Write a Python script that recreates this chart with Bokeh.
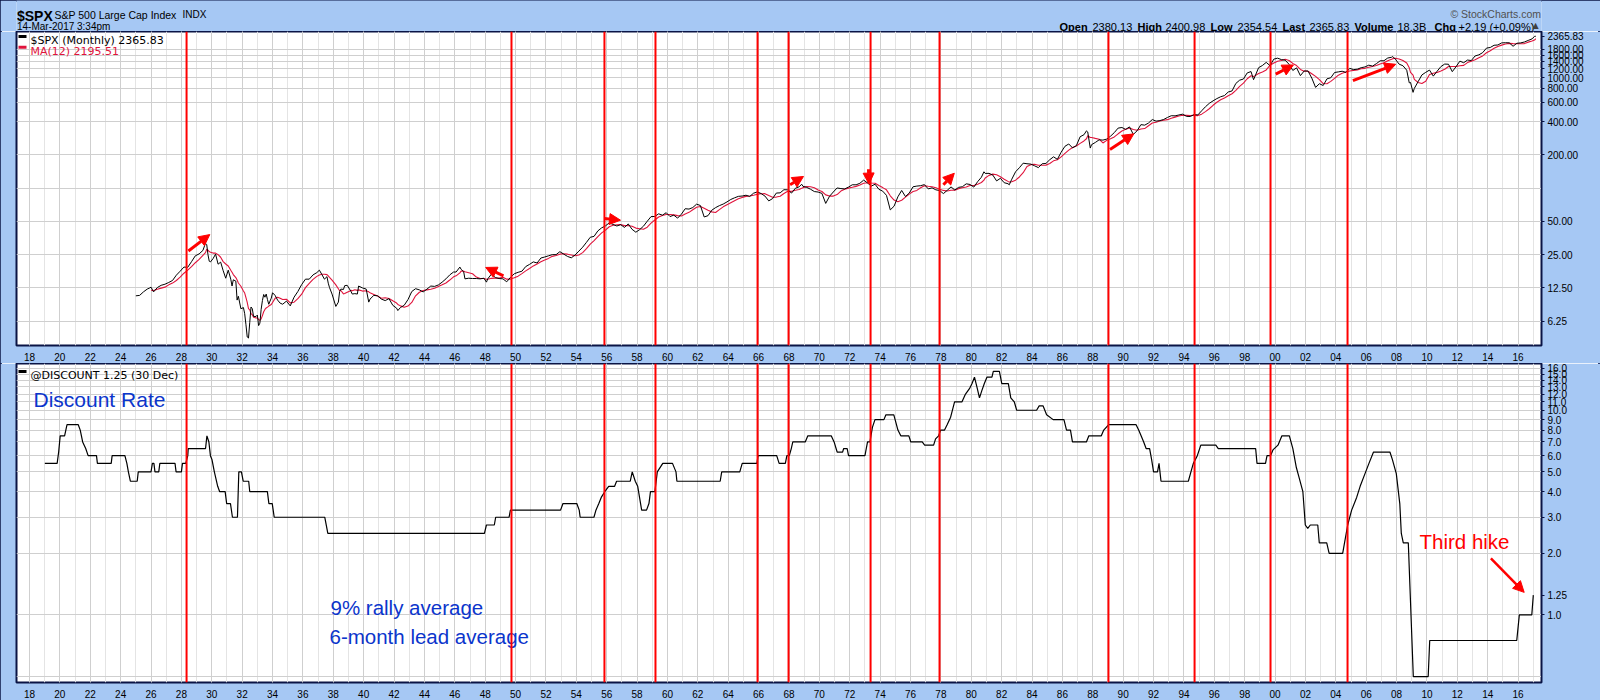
import numpy as np
from bokeh.plotting import figure
from bokeh.models import (Range1d, FixedTicker, PrintfTickFormatter, Span, Arrow,
                          NormalHead)
from bokeh.layouts import column
from bokeh.embed import file_html
from bokeh.resources import INLINE
from bokeh.core.properties import value

# ------------------------------------------------------------------ data
spx_months = [
    "1925-01", "1925-04", "1925-07", "1925-10", "1925-12",
    "1926-01", "1926-03", "1926-06", "1926-09", "1926-12",
    "1927-03", "1927-06", "1927-09", "1927-12",
    "1928-03", "1928-06", "1928-09", "1928-12",
    "1929-03", "1929-06", "1929-08", "1929-09", "1929-10", "1929-11", "1929-12",
    "1930-02", "1930-04", "1930-06", "1930-08", "1930-10", "1930-12",
    "1931-02", "1931-04", "1931-05", "1931-06", "1931-08", "1931-09", "1931-10", "1931-12",
    "1932-02", "1932-03", "1932-04", "1932-05", "1932-06", "1932-07", "1932-08", "1932-09", "1932-10", "1932-12",
    "1933-01", "1933-02", "1933-03", "1933-04", "1933-05", "1933-06", "1933-07", "1933-08", "1933-09", "1933-10", "1933-12",
    "1934-01", "1934-03", "1934-05", "1934-07", "1934-09", "1934-12",
    "1935-03", "1935-06", "1935-09", "1935-12",
    "1936-03", "1936-06", "1936-09", "1936-12",
    "1937-02", "1937-04", "1937-06", "1937-08", "1937-09", "1937-10", "1937-12",
    "1938-03", "1938-05", "1938-06", "1938-07", "1938-09", "1938-10", "1938-12",
    "1939-03", "1939-04", "1939-06", "1939-08", "1939-09", "1939-12",
    "1940-03", "1940-05", "1940-06", "1940-09", "1940-12",
    "1941-03", "1941-06", "1941-09", "1941-12",
    "1942-03", "1942-04", "1942-06", "1942-09", "1942-12",
    "1943-03", "1943-06", "1943-09", "1943-12",
    "1944-03", "1944-06", "1944-09", "1944-12",
    "1945-03", "1945-06", "1945-09", "1945-12",
    "1946-02", "1946-05", "1946-06", "1946-08", "1946-09", "1946-12",
    "1947-03", "1947-06", "1947-09", "1947-12",
    "1948-02", "1948-03", "1948-06", "1948-09", "1948-12",
    "1949-03", "1949-06", "1949-09", "1949-12",
    "1950-03", "1950-06", "1950-09", "1950-12",
    "1951-03", "1951-06", "1951-09", "1951-12",
    "1952-03", "1952-06", "1952-09", "1952-12",
    "1953-03", "1953-06", "1953-09", "1953-12",
    "1954-03", "1954-06", "1954-09", "1954-12",
    "1955-03", "1955-06", "1955-09", "1955-12",
    "1956-03", "1956-06", "1956-09", "1956-12",
    "1957-03", "1957-06", "1957-09", "1957-12",
    "1958-03", "1958-06", "1958-09", "1958-12",
    "1959-03", "1959-06", "1959-09", "1959-12",
    "1960-03", "1960-06", "1960-09", "1960-12",
    "1961-03", "1961-06", "1961-09", "1961-12",
    "1962-03", "1962-06", "1962-09", "1962-12",
    "1963-03", "1963-06", "1963-09", "1963-12",
    "1964-03", "1964-06", "1964-09", "1964-12",
    "1965-03", "1965-06", "1965-09", "1965-12",
    "1966-03", "1966-06", "1966-09", "1966-12",
    "1967-03", "1967-06", "1967-09", "1967-12",
    "1968-03", "1968-06", "1968-09", "1968-11", "1968-12",
    "1969-03", "1969-06", "1969-09", "1969-12",
    "1970-03", "1970-06", "1970-09", "1970-12",
    "1971-03", "1971-06", "1971-09", "1971-12",
    "1972-03", "1972-06", "1972-09", "1972-12",
    "1973-03", "1973-06", "1973-09", "1973-12",
    "1974-03", "1974-06", "1974-09", "1974-12",
    "1975-03", "1975-06", "1975-09", "1975-12",
    "1976-03", "1976-06", "1976-09", "1976-12",
    "1977-03", "1977-06", "1977-09", "1977-12",
    "1978-03", "1978-06", "1978-09", "1978-12",
    "1979-03", "1979-06", "1979-09", "1979-12",
    "1980-03", "1980-06", "1980-09", "1980-11", "1980-12",
    "1981-03", "1981-06", "1981-09", "1981-12",
    "1982-03", "1982-06", "1982-07", "1982-09", "1982-12",
    "1983-03", "1983-06", "1983-09", "1983-12",
    "1984-03", "1984-06", "1984-09", "1984-12",
    "1985-03", "1985-06", "1985-09", "1985-12",
    "1986-03", "1986-06", "1986-09", "1986-12",
    "1987-03", "1987-06", "1987-08", "1987-09", "1987-11", "1987-12",
    "1988-03", "1988-06", "1988-09", "1988-12",
    "1989-03", "1989-06", "1989-09", "1989-12",
    "1990-03", "1990-06", "1990-09", "1990-12",
    "1991-03", "1991-06", "1991-09", "1991-12",
    "1992-03", "1992-06", "1992-09", "1992-12",
    "1993-03", "1993-06", "1993-09", "1993-12",
    "1994-03", "1994-06", "1994-09", "1994-12",
    "1995-03", "1995-06", "1995-09", "1995-12",
    "1996-03", "1996-06", "1996-09", "1996-12",
    "1997-03", "1997-06", "1997-09", "1997-12",
    "1998-03", "1998-06", "1998-08", "1998-09", "1998-12",
    "1999-03", "1999-06", "1999-09", "1999-12",
    "2000-03", "2000-06", "2000-09", "2000-12",
    "2001-03", "2001-06", "2001-09", "2001-12",
    "2002-03", "2002-06", "2002-09", "2002-12",
    "2003-03", "2003-06", "2003-09", "2003-12",
    "2004-03", "2004-06", "2004-09", "2004-12",
    "2005-03", "2005-06", "2005-09", "2005-12",
    "2006-03", "2006-06", "2006-09", "2006-12",
    "2007-03", "2007-06", "2007-09", "2007-10", "2007-12",
    "2008-03", "2008-06", "2008-09", "2008-11", "2008-12",
    "2009-02", "2009-03", "2009-06", "2009-09", "2009-12",
    "2010-03", "2010-06", "2010-09", "2010-12",
    "2011-03", "2011-06", "2011-09", "2011-12",
    "2012-03", "2012-06", "2012-09", "2012-12",
    "2013-03", "2013-06", "2013-09", "2013-12",
    "2014-03", "2014-06", "2014-09", "2014-12",
    "2015-03", "2015-06", "2015-09", "2015-12",
    "2016-03", "2016-06", "2016-09", "2016-12",
    "2017-02", "2017-03",
]
spx_close = [
    10.6, 10.7, 11.5, 12.2, 12.5,
    12.7, 11.5, 12.6, 13.2, 13.5,
    14.0, 14.6, 16.3, 17.7,
    19.3, 19.2, 21.6, 24.4,
    25.4, 27.3, 31.7, 30.9, 25.0, 21.8, 21.5,
    23.0, 25.3, 20.5, 21.4, 17.9, 15.3,
    18.1, 15.0, 13.0, 14.8, 14.4, 9.7, 10.5, 8.1,
    8.3, 7.3, 5.8, 4.5, 4.4, 6.1, 8.4, 8.1, 6.9, 6.9,
    7.1, 5.7, 6.0, 8.0, 9.6, 10.9, 10.3, 11.0, 9.8, 8.9, 10.1,
    11.3, 10.7, 9.7, 9.1, 8.9, 9.5,
    8.6, 10.3, 11.6, 13.4,
    15.0, 15.0, 16.4, 17.2,
    18.1, 16.5, 15.0, 15.8, 13.8, 12.6, 11.0,
    8.5, 9.3, 11.6, 12.2, 12.1, 13.1, 13.2,
    11.6, 11.0, 11.1, 11.0, 13.0, 12.5,
    12.2, 9.3, 9.9, 10.7, 10.6,
    9.9, 9.6, 10.0, 8.7,
    8.2, 7.8, 8.3, 8.7, 9.8,
    11.6, 12.3, 12.0, 11.5,
    12.2, 13.0, 12.9, 13.3,
    14.1, 15.1, 16.4, 17.4,
    17.4, 19.3, 18.4, 17.5, 15.1, 15.3,
    15.2, 15.2, 15.1, 15.3,
    14.1, 15.1, 16.7, 15.5, 15.2,
    15.1, 14.2, 15.6, 16.8,
    17.3, 17.7, 19.5, 20.4,
    21.5, 21.0, 23.3, 23.8,
    24.4, 25.0, 25.0, 26.6,
    25.3, 24.1, 23.4, 24.8,
    26.9, 29.2, 32.3, 35.9,
    36.6, 41.0, 43.7, 45.5,
    48.5, 46.9, 45.4, 46.7,
    44.1, 47.4, 42.4, 39.9,
    42.1, 45.2, 50.1, 55.2,
    55.4, 58.5, 56.9, 59.9,
    55.3, 56.9, 53.5, 58.1,
    65.1, 64.6, 66.7, 71.6,
    69.6, 54.8, 56.3, 63.1,
    66.6, 69.4, 71.7, 75.0,
    78.9, 81.7, 84.2, 84.8,
    86.2, 84.1, 89.9, 92.4,
    89.2, 84.7, 76.6, 80.3,
    90.2, 90.6, 96.7, 96.5,
    90.2, 99.6, 102.7, 108.4, 103.9,
    101.5, 97.7, 93.1, 92.1,
    89.6, 72.7, 84.3, 92.2,
    100.3, 99.0, 98.3, 102.1,
    107.2, 107.1, 110.6, 118.1,
    111.5, 104.3, 108.4, 97.6,
    93.9, 86.0, 63.5, 68.6,
    83.4, 95.2, 83.9, 90.2,
    102.8, 104.3, 105.2, 107.5,
    98.4, 100.5, 96.5, 95.1,
    89.2, 95.5, 102.5, 96.1,
    101.6, 102.9, 109.3, 107.9,
    102.1, 114.2, 125.5, 140.5, 135.8,
    136.0, 131.2, 116.2, 122.6,
    111.9, 109.6, 107.1, 120.4, 140.6,
    152.9, 168.1, 166.1, 164.9,
    159.2, 153.2, 166.1, 167.2,
    180.7, 191.9, 182.1, 211.3,
    238.9, 250.8, 231.3, 242.2,
    291.7, 304.0, 329.8, 321.8, 230.3, 247.1,
    258.9, 273.5, 271.9, 277.7,
    294.9, 317.9, 349.2, 353.4,
    339.9, 358.0, 306.1, 330.2,
    375.2, 371.2, 387.9, 417.1,
    403.7, 408.1, 417.8, 435.7,
    451.7, 450.5, 458.9, 466.5,
    445.8, 444.3, 462.7, 459.3,
    500.7, 544.8, 584.4, 615.9,
    645.5, 670.6, 687.3, 740.7,
    757.1, 885.1, 947.3, 970.4,
    1101.8, 1133.8, 957.3, 1017.0, 1229.2,
    1286.4, 1372.7, 1282.7, 1469.3,
    1498.6, 1454.6, 1436.5, 1320.3,
    1160.3, 1224.4, 1040.9, 1148.1,
    1147.4, 989.8, 815.3, 879.8,
    848.2, 974.5, 996.0, 1111.9,
    1126.2, 1140.8, 1114.6, 1211.9,
    1180.6, 1191.3, 1228.8, 1248.3,
    1294.8, 1270.2, 1335.9, 1418.3,
    1420.9, 1503.4, 1526.8, 1549.4, 1468.4,
    1322.7, 1280.0, 1166.4, 896.2, 903.3,
    735.1, 797.9, 919.3, 1057.1, 1115.1,
    1169.4, 1030.7, 1141.2, 1257.6,
    1325.8, 1320.6, 1131.4, 1257.6,
    1408.5, 1362.2, 1440.7, 1426.2,
    1569.2, 1606.3, 1681.6, 1848.4,
    1872.3, 1960.2, 1972.3, 2058.9,
    2067.9, 2063.1, 1920.0, 2043.9,
    2059.7, 2098.9, 2168.3, 2238.8,
    2363.6, 2365.83,
]

disc_dates = [
    1919.01, 1919.82, 1919.92, 1920.02, 1920.31, 1920.47, 1921.21, 1921.34, 1921.50,
    1921.60, 1921.70, 1921.86, 1922.41, 1922.47, 1923.38, 1923.44, 1924.28, 1924.41,
    1924.51, 1924.64, 1925.09, 1925.16, 1926.00, 1926.09, 1926.19, 1926.26, 1926.51,
    1926.58, 1927.58, 1927.65, 1928.00, 1928.07, 1928.29, 1928.42, 1928.45, 1929.59,
    1929.68, 1929.81, 1929.91, 1930.01, 1930.17, 1930.39, 1930.52, 1930.88, 1930.98,
    1931.23, 1931.36, 1931.69, 1931.78, 1931.95, 1932.07, 1932.43, 1932.50, 1933.66,
    1933.76, 1933.98, 1934.11, 1937.44, 1937.64, 1947.95, 1948.08, 1948.60, 1948.69,
    1949.57, 1949.66, 1952.96, 1953.12, 1954.03, 1954.19, 1954.25, 1955.16, 1955.29,
    1955.48, 1955.64, 1955.87, 1956.13, 1956.52, 1956.65, 1957.55, 1957.68, 1957.88,
    1958.04, 1958.30, 1958.62, 1958.78, 1958.88, 1959.17, 1959.33, 1959.69, 1960.33,
    1960.56, 1960.62, 1963.47, 1963.57, 1964.76, 1964.92, 1965.89, 1965.96, 1967.19,
    1967.35, 1967.76, 1967.86, 1968.02, 1968.15, 1968.25, 1969.07, 1969.24, 1970.78,
    1970.97, 1971.10, 1971.17, 1971.53, 1971.60, 1971.83, 1971.92, 1973.00, 1973.17,
    1973.33, 1973.49, 1973.66, 1974.25, 1974.38, 1974.90, 1975.03, 1975.17, 1975.36,
    1975.89, 1976.02, 1976.77, 1976.93, 1977.52, 1977.65, 1977.85, 1977.98, 1978.24,
    1978.41, 1978.64, 1978.90, 1979.39, 1979.62, 1979.88, 1980.05, 1980.21, 1980.37,
    1980.54, 1980.70, 1980.86, 1981.03, 1981.36, 1981.45, 1981.85, 1982.01, 1982.44,
    1982.60, 1982.83, 1982.99, 1984.30, 1984.47, 1984.73, 1984.96, 1985.39, 1986.10,
    1986.27, 1986.53, 1986.66, 1987.58, 1987.74, 1988.56, 1988.72, 1989.05, 1990.85,
    1991.02, 1991.18, 1991.35, 1991.51, 1991.74, 1991.87, 1992.00, 1992.26, 1992.36,
    1992.49, 1994.29, 1994.46, 1994.62, 1994.88, 1995.11, 1996.10, 1996.26, 1998.72,
    1998.81, 1999.37, 1999.47, 1999.70, 1999.86, 2000.19, 2000.45, 2000.94, 2001.17,
    2001.40, 2001.56, 2001.83, 2001.99, 2002.15, 2002.32, 2002.81, 2002.91, 2003.40,
    2003.56, 2004.45, 2004.78, 2005.04, 2005.37, 2005.60, 2005.92, 2006.18, 2006.48,
    2007.56, 2007.72, 2007.98, 2008.21, 2008.31, 2008.44, 2008.77, 2009.10, 2010.08,
    2010.18, 2015.91, 2016.08, 2016.90, 2017.00,
]
disc_rate = [
    5.5, 5.5, 6.25, 7.5, 7.5, 8.5, 8.5, 8.0, 7.0,
    6.75, 6.5, 6.0, 6.0, 5.5, 5.5, 6.0, 6.0, 5.5,
    5.0, 4.5, 4.5, 5.0, 5.0, 5.5, 5.5, 5.0, 5.0,
    5.5, 5.5, 5.0, 5.0, 5.5, 5.5, 6.0, 6.5, 6.5,
    7.5, 7.0, 6.0, 5.75, 5.0, 4.25, 4.0, 4.0, 3.5,
    3.5, 3.0, 3.0, 5.0, 5.0, 4.5, 4.5, 4.0, 4.0,
    3.5, 3.5, 3.0, 3.0, 2.5, 2.5, 2.75, 2.75, 3.0,
    3.0, 3.25, 3.25, 3.5, 3.5, 3.25, 3.0, 3.0, 3.25,
    3.5, 3.75, 4.0, 4.25, 4.25, 4.5, 4.5, 5.0, 4.5,
    4.25, 3.25, 3.25, 3.5, 4.0, 4.0, 5.0, 5.5, 5.5,
    5.0, 4.5, 4.5, 5.0, 5.0, 5.5, 5.5, 6.0, 6.0,
    5.5, 5.5, 6.0, 6.0, 6.5, 7.0, 7.0, 7.5, 7.5,
    7.0, 6.5, 6.25, 6.25, 6.5, 6.5, 6.0, 6.0, 7.0,
    7.0, 8.25, 9.0, 9.0, 9.5, 9.5, 8.75, 8.0, 7.5,
    7.5, 7.0, 7.0, 6.75, 6.75, 7.25, 7.5, 8.0, 8.0,
    8.5, 9.25, 11.0, 11.0, 12.0, 12.75, 13.5, 14.5, 13.0,
    11.5, 12.5, 13.5, 14.5, 14.5, 15.5, 15.5, 13.5, 13.5,
    11.5, 11.0, 10.0, 10.0, 10.5, 10.5, 9.5, 9.0, 9.0,
    8.0, 8.0, 7.0, 7.0, 7.5, 7.5, 8.0, 8.5, 8.5,
    8.0, 7.5, 7.0, 6.5, 6.5, 5.75, 5.0, 5.0, 5.5,
    4.5, 4.5, 5.0, 5.5, 6.0, 6.75, 6.75, 6.5, 6.5,
    5.5, 5.5, 6.0, 6.0, 6.4, 6.75, 7.5, 7.5, 6.5,
    5.25, 4.75, 4.0, 2.75, 2.65, 2.75, 2.75, 2.25, 2.25,
    2.0, 2.0, 2.75, 3.25, 3.75, 4.25, 4.9, 5.5, 6.25,
    6.25, 5.75, 4.9, 3.5, 2.5, 2.25, 2.25, 0.5, 0.5,
    0.75, 0.75, 1.0, 1.0, 1.25,
]

hike_dates = [1928.34, 1949.73, 1955.85, 1959.21, 1965.93, 1967.97,
              1973.37, 1977.91, 1989.03, 1994.70, 1999.70, 2004.77]

year_ticks = list(range(1918, 2017, 2))
year_minor = list(range(1917, 2018))
year_labels = {y: "%02d" % (y % 100) for y in year_ticks}
spx_ticks = [6.25, 12.5, 25, 50, 200, 400, 600, 800, 1000, 1200, 1400, 1600, 1800]
spx_minor = [100]
disc_ticks = [1, 2, 3, 4, 5, 6, 7, 8, 9, 10, 11, 12, 13, 14, 15, 16]
disc_minor = [0.5]

assert len(spx_months) == len(spx_close)
assert len(disc_dates) == len(disc_rate)

spx_x = np.array([int(s[:4]) + (int(s[5:]) - 1) / 12.0 for s in spx_months])
spx_y = np.array(spx_close)
ma_x, ma_y = [], []
for t in spx_x:
    if t - spx_x[0] < 1 - 1e-6:
        continue
    m = (spx_x > t - 1 + 1e-6) & (spx_x <= t + 1e-6)
    ma_x.append(t)
    ma_y.append(float(spx_y[m].mean()))

# ------------------------------------------------------------------ styling helpers
BG = "#a6c8f4"
NAVY = "#0a1445"
GRID = "#cfcfcf"
GRID_MINOR = "#e4e4e4"
ARIAL = value("Liberation Sans")
VERD = value("DejaVu Sans")
W = 1600
FL, FR = 16, 1541          # frame left / right edge (page pixels)
HH = 31                    # header strip height


def yr(px):
    return 1918 + (px - 29) / 15.19


def v_top(py):
    return 6.25 * 2 ** ((325.3 - py) / 33.8)


def v_bot(py):
    return 2 ** ((616 - py) / 62.0)


X0, X1 = yr(FL), yr(FR)

# ------------------------------------------------------------------ header strip
# same side borders as the panels, so its frame lines up with them
ph = figure(width=W, height=HH, x_range=Range1d(FL, FR),
            y_range=Range1d(HH, 0), x_axis_location=None, y_axis_location=None,
            toolbar_location=None, output_backend="svg",
            min_border_left=FL, min_border_right=W - FR, min_border_top=0,
            min_border_bottom=0)
ph.grid.visible = False
ph.outline_line_color = None
ph.background_fill_color = BG
ph.border_fill_color = BG

ph.text(x=[16.5], y=[15], text=["$SPX"], text_font=ARIAL, text_font_size="14px",
        text_font_style="bold", text_baseline="alphabetic", text_color="black")
ph.text(x=[54], y=[14], text=["S&P 500 Large Cap Index"], text_font=ARIAL,
        text_font_size="10.5px", text_baseline="alphabetic", text_color="black")
ph.text(x=[182], y=[14], text=["INDX"], text_font=ARIAL, text_font_size="10px",
        text_baseline="alphabetic", text_color="black")
ph.text(x=[16.5], y=[26], text=["14-Mar-2017 3:34pm"], text_font=ARIAL,
        text_font_size="10px", text_baseline="alphabetic", text_color="black")
ph.text(x=[1540.5], y=[13], text=["\u00a9 StockCharts.com"], text_font=ARIAL,
        text_font_size="10.5px", text_align="right", text_baseline="alphabetic",
        text_color="#505050")

hdr_pieces = [("Open", 1059, "bold"), ("2380.13", 1092, "normal"),
              ("High", 1137, "bold"), ("2400.98", 1165, "normal"),
              ("Low", 1210, "bold"), ("2354.54", 1237, "normal"),
              ("Last", 1282, "bold"), ("2365.83", 1309, "normal"),
              ("Volume", 1354, "bold"), ("18.3B", 1397, "normal"),
              ("Chg", 1434, "bold"), ("+2.19 (+0.09%)", 1458, "normal")]
for txt, xx, st in hdr_pieces:
    ph.text(x=[xx], y=[26], text=[txt], text_font=ARIAL, text_font_size="11px",
            text_font_style=st, text_baseline="alphabetic", text_color="black")
ph.text(x=[1532], y=[25], text=["\u25b2"], text_font=VERD, text_font_size="8px",
        text_baseline="alphabetic", text_color="#404040")


def style_panel(p, yticks, yminor, fmt, last_val, last_txt):
    p.background_fill_color = "white"
    p.border_fill_color = BG
    p.outline_line_color = NAVY
    p.outline_line_width = 2
    xt = FixedTicker(ticks=year_ticks, minor_ticks=year_minor)
    p.xaxis.ticker = xt
    p.xgrid.ticker = xt
    p.xaxis.major_label_overrides = year_labels
    p.xaxis.major_tick_line_color = None
    p.xaxis.minor_tick_line_color = None
    p.xaxis.axis_line_color = None
    p.xaxis.major_label_standoff = 1
    p.xaxis.major_label_text_font = "Liberation Sans"
    p.xaxis.major_label_text_font_size = "10px"
    p.xaxis.major_label_text_color = "black"
    p.xgrid.grid_line_color = GRID
    p.xgrid.minor_grid_line_color = GRID_MINOR
    # axis ticks include the last value (shown as the price tag)
    p.yaxis.ticker = FixedTicker(ticks=sorted(yticks + [last_val]), minor_ticks=yminor)
    p.ygrid.ticker = FixedTicker(ticks=yticks, minor_ticks=yminor)
    p.yaxis.formatter = PrintfTickFormatter(format=fmt)
    p.yaxis.major_label_overrides = {last_val: last_txt}
    p.yaxis.major_tick_out = 3
    p.yaxis.major_tick_in = 0
    p.yaxis.major_tick_line_color = NAVY
    p.yaxis.minor_tick_line_color = None
    p.yaxis.axis_line_color = NAVY
    p.yaxis.major_label_standoff = 2
    p.yaxis.major_label_text_font = "Liberation Sans"
    p.yaxis.major_label_text_font_size = "10px"
    p.yaxis.major_label_text_color = "black"
    p.ygrid.grid_line_color = GRID
    p.ygrid.minor_grid_line_color = GRID
    for d in hike_dates:
        p.add_layout(Span(location=d, dimension="height", line_color="#ff0000",
                          line_width=2))


# ------------------------------------------------------------------ top panel
p1 = figure(width=W, height=363 - HH, y_axis_type="log",
            x_range=Range1d(X0, X1), y_range=Range1d(v_top(350), v_top(HH)),
            y_axis_location="right", toolbar_location=None, output_backend="svg",
            min_border_left=FL, min_border_right=W - FR, min_border_top=0,
            min_border_bottom=13)
style_panel(p1, spx_ticks, spx_minor, "%.2f", spx_close[-1], "%.2f" % spx_close[-1])

p1.line(ma_x, ma_y, line_color="#e0143c", line_width=1.1)
p1.line(spx_x, spx_y, line_color="black", line_width=1)

# legend text (top-left)
p1.segment(x0=[yr(18), yr(18)], y0=[v_top(36), v_top(47)],
           x1=[yr(26), yr(26)], y1=[v_top(36), v_top(47)],
           line_color=["black", "#e0143c"], line_width=3)
p1.text(x=[yr(30)], y=[v_top(40)], text=["$SPX (Monthly) 2365.83"], text_font=VERD,
        text_font_size="11px", text_baseline="alphabetic", text_color="black")
p1.text(x=[yr(30)], y=[v_top(51)], text=["MA(12) 2195.51"], text_font=VERD,
        text_font_size="11px", text_baseline="alphabetic", text_color="#e0143c")

arrows_px = [((187.9, 254.0), (209.3, 237.3)), ((503.0, 279.3), (485.2, 270.7)),
             ((603.7, 221.0), (620.0, 222.7)), ((789.6, 186.7), (803.0, 178.3)),
             ((868.0, 171.0), (868.5, 186.0)), ((942.9, 186.7), (953.8, 175.0)),
             ((1109.5, 151.0), (1133.3, 135.0)), ((1275.2, 74.3), (1292.9, 65.0)),
             ((1352.4, 81.0), (1395.2, 64.3))]
for (ax0, ay0), (ax1, ay1) in arrows_px:
    p1.add_layout(Arrow(end=NormalHead(size=11, fill_color="#ff0000", line_color="#ff0000"),
                        x_start=yr(ax0), y_start=v_top(ay0), x_end=yr(ax1), y_end=v_top(ay1),
                        line_color="#ff0000", line_width=3))

# ------------------------------------------------------------------ bottom panel
p2 = figure(width=W, height=337, y_axis_type="log",
            x_range=p1.x_range, y_range=Range1d(v_bot(684), v_bot(363)),
            y_axis_location="right", toolbar_location=None, output_backend="svg",
            min_border_left=FL, min_border_right=W - FR, min_border_top=0,
            min_border_bottom=16)
style_panel(p2, disc_ticks, disc_minor, "%.1f", disc_rate[-1], "%.2f" % disc_rate[-1])

p2.line(disc_dates, disc_rate, line_color="black", line_width=1.2)

p2.segment(x0=[yr(18)], y0=[v_bot(371)], x1=[yr(26)], y1=[v_bot(371)],
           line_color="black", line_width=3)
p2.text(x=[yr(30)], y=[v_bot(375.5)], text=["@DISCOUNT 1.25 (30 Dec)"], text_font=VERD,
        text_font_size="11px", text_baseline="alphabetic", text_color="black")

BLUE = "#0b35cc"
p2.text(x=[yr(33)], y=[v_bot(399)], text=["Discount Rate"], text_font=ARIAL,
        text_font_size="21px", text_baseline="alphabetic", text_color=BLUE)
p2.text(x=[yr(330), yr(329)], y=[v_bot(609), v_bot(638)],
        text=["9% rally average", "6-month lead  average"], text_font=ARIAL,
        text_font_size="20.5px", text_baseline="alphabetic", text_color=BLUE)
p2.text(x=[yr(1419)], y=[v_bot(542)], text=["Third hike"], text_font=ARIAL,
        text_font_size="20.5px", text_baseline="alphabetic", text_color="#ff0000")
p2.add_layout(Arrow(end=NormalHead(size=11, fill_color="#ff0000", line_color="#ff0000"),
                    x_start=yr(1490.4), y_start=v_bot(559), x_end=yr(1523.7),
                    y_end=v_bot(593.3), line_color="#ff0000", line_width=2.5))

layout = column(ph, p1, p2, spacing=0,
                styles={"outline": "2px solid #0a1445", "outline-offset": "-2px"})
open("out.html", "w").write(file_html(layout, INLINE))
